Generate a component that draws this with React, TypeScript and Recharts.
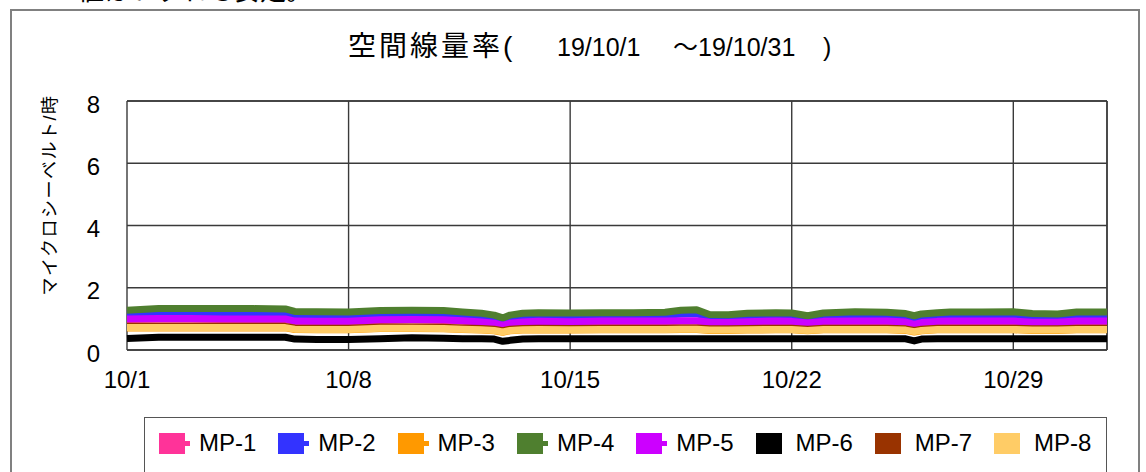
import { CartesianGrid, Line, LineChart, ReferenceLine, XAxis, YAxis } from "recharts";

// days since 10/1 00:00
const dayOffsets = [
  0, 1, 2, 3, 4, 5, 5.3, 6, 7, 8, 9, 10, 10.6, 11.2, 11.6, 11.87, 12.1, 12.5, 13, 14, 15, 16, 17, 17.5,
  18, 18.4, 19, 19.6, 20.5, 21, 21.5, 22, 23, 24, 24.6, 24.87, 25.1, 25.6, 26, 27, 28, 28.6, 29.4, 30, 30.96,
];

const mp1 = [
  0.98, 0.99, 0.99, 0.98, 0.98, 0.98, 0.91, 0.9, 0.9, 0.95, 0.96, 0.95, 0.92, 0.88, 0.84, 0.77, 0.84, 0.88, 0.9, 0.89, 0.91, 0.91, 0.91, 0.92,
  0.92, 0.87, 0.86, 0.89, 0.91, 0.9, 0.85, 0.9, 0.91, 0.91, 0.88, 0.8, 0.86, 0.9, 0.91, 0.91, 0.91, 0.87, 0.87, 0.91, 0.91,
];
const mp2 = [
  1.18, 1.19, 1.19, 1.19, 1.19, 1.18, 1.12, 1.11, 1.11, 1.15, 1.16, 1.15, 1.11, 1.07, 1.02, 0.94, 1.02, 1.07, 1.1, 1.09, 1.1, 1.1, 1.11, 1.16,
  1.17, 1.04, 1.03, 1.08, 1.1, 1.09, 1.02, 1.09, 1.12, 1.11, 1.07, 0.99, 1.05, 1.09, 1.11, 1.11, 1.12, 1.07, 1.06, 1.11, 1.11,
];
const mp3 = [
  0.71, 0.71, 0.71, 0.71, 0.71, 0.71, 0.66, 0.65, 0.65, 0.69, 0.69, 0.68, 0.66, 0.64, 0.62, 0.57, 0.62, 0.64, 0.65, 0.64, 0.65, 0.65, 0.65, 0.66,
  0.66, 0.63, 0.63, 0.64, 0.65, 0.65, 0.62, 0.65, 0.65, 0.65, 0.63, 0.58, 0.62, 0.65, 0.65, 0.65, 0.65, 0.63, 0.63, 0.65, 0.65,
];
const mp4 = [
  1.28, 1.33, 1.33, 1.33, 1.33, 1.32, 1.24, 1.23, 1.22, 1.27, 1.28, 1.27, 1.22, 1.18, 1.12, 1.03, 1.12, 1.18, 1.2, 1.19, 1.2, 1.2, 1.21, 1.28,
  1.29, 1.14, 1.13, 1.18, 1.2, 1.19, 1.1, 1.19, 1.23, 1.21, 1.17, 1.1, 1.16, 1.2, 1.22, 1.22, 1.23, 1.17, 1.16, 1.22, 1.22,
];
const mp5 = [
  1.0, 1.01, 1.01, 1.0, 1.0, 1.0, 0.93, 0.92, 0.92, 0.97, 0.98, 0.97, 0.94, 0.9, 0.86, 0.79, 0.86, 0.9, 0.92, 0.91, 0.93, 0.93, 0.93, 0.94,
  0.94, 0.89, 0.88, 0.91, 0.93, 0.92, 0.87, 0.92, 0.93, 0.93, 0.9, 0.82, 0.88, 0.92, 0.93, 0.93, 0.93, 0.89, 0.89, 0.93, 0.93,
];
const mp6 = [
  0.37, 0.41, 0.41, 0.41, 0.41, 0.41, 0.35, 0.34, 0.34, 0.36, 0.39, 0.38, 0.36, 0.36, 0.35, 0.28, 0.31, 0.35, 0.36, 0.36, 0.36, 0.36, 0.36, 0.36,
  0.36, 0.36, 0.36, 0.36, 0.36, 0.36, 0.36, 0.36, 0.36, 0.36, 0.36, 0.29, 0.35, 0.36, 0.36, 0.36, 0.36, 0.36, 0.36, 0.36, 0.36,
];
const mp7 = [
  0.76, 0.76, 0.76, 0.76, 0.76, 0.76, 0.71, 0.7, 0.7, 0.74, 0.74, 0.73, 0.71, 0.69, 0.67, 0.62, 0.67, 0.69, 0.7, 0.69, 0.7, 0.7, 0.7, 0.71,
  0.71, 0.68, 0.68, 0.69, 0.7, 0.7, 0.67, 0.7, 0.7, 0.7, 0.68, 0.63, 0.67, 0.7, 0.7, 0.7, 0.7, 0.68, 0.68, 0.7, 0.7,
];
const mp8 = [
  0.72, 0.72, 0.72, 0.72, 0.72, 0.72, 0.67, 0.66, 0.66, 0.7, 0.7, 0.69, 0.67, 0.65, 0.63, 0.58, 0.63, 0.65, 0.66, 0.65, 0.66, 0.66, 0.66, 0.67,
  0.67, 0.64, 0.64, 0.65, 0.66, 0.66, 0.63, 0.66, 0.66, 0.66, 0.64, 0.59, 0.63, 0.66, 0.66, 0.66, 0.66, 0.64, 0.64, 0.66, 0.66,
];

const seriesNames = ["MP-1", "MP-2", "MP-3", "MP-4", "MP-5", "MP-6", "MP-7", "MP-8"];
const seriesValues = [mp1, mp2, mp3, mp4, mp5, mp6, mp7, mp8];
const seriesColors = ["#ff3399", "#3333ff", "#ff9900", "#4f7f2f", "#cc00ff", "#000000", "#993300", "#ffcc66"];

const xTicks = [0, 7, 14, 21, 28];
const xTickLabels = ["10/1", "10/8", "10/15", "10/22", "10/29"];
const yTicks = [0, 2, 4, 6, 8];

const rows = dayOffsets.map((t, i) => {
  const row: Record<string, number> = { t };
  seriesNames.forEach((name, s) => {
    row[name] = seriesValues[s][i];
  });
  return row;
});

const FONT = "'Liberation Sans', 'Noto Sans CJK JP', sans-serif";
const GRID = "#3a3a3a";

export default function App() {
  const lastDay = dayOffsets[dayOffsets.length - 1];
  return (
    <div
      style={{
        position: "relative",
        width: 1146,
        height: 472,
        overflow: "hidden",
        background: "#fff",
        fontFamily: FONT,
        color: "#000",
      }}
    >
      <style>{"body{margin:0}"}</style>

      {/* cut-off line of the surrounding document */}
      <div
        style={{ position: "absolute", left: 78, top: -22, fontSize: 26, lineHeight: 1, whiteSpace: "nowrap" }}
      >
        値はいずれも安定。
      </div>

      <div
        style={{
          position: "absolute",
          left: 10,
          top: 9,
          width: 1130,
          height: 500,
          border: "2px solid #808080",
          boxSizing: "border-box",
        }}
      />

      {/* title */}
      <div style={{ position: "absolute", left: 348, top: 33, fontSize: 28, letterSpacing: 3, lineHeight: 1, whiteSpace: "nowrap" }}>
        空間線量率(
      </div>
      <div style={{ position: "absolute", left: 557, top: 35, fontSize: 25, lineHeight: 1, whiteSpace: "nowrap" }}>
        19/10/1
      </div>
      <div style={{ position: "absolute", left: 673, top: 35, fontSize: 25, lineHeight: 1, whiteSpace: "nowrap" }}>
        ～19/10/31
      </div>
      <div style={{ position: "absolute", left: 823, top: 35, fontSize: 25, lineHeight: 1, whiteSpace: "nowrap" }}>
        )
      </div>

      {/* y axis title */}
      <div
        style={{
          position: "absolute",
          left: 50,
          top: 195,
          fontSize: 18,
          letterSpacing: 1.5,
          lineHeight: 1,
          whiteSpace: "nowrap",
          transform: "translate(-50%, -50%) rotate(-90deg)",
        }}
      >
        マイクロシーベルト/時
      </div>

      <div style={{ position: "absolute", left: 0, top: 0 }}>
        <LineChart width={1146} height={472} data={rows} margin={{ top: 101, right: 39, bottom: 92, left: 0 }}>
          <CartesianGrid stroke={GRID} strokeWidth={1.4} fill="#fff" />
          <XAxis
            type="number"
            dataKey="t"
            domain={[0, lastDay]}
            ticks={xTicks}
            interval={0}
            tickFormatter={(v) => xTickLabels[xTicks.indexOf(v)]}
            axisLine={false}
            tickLine={false}
            tickSize={0}
            tickMargin={21}
            height={30}
            tick={{ fontSize: 24, fill: "#000" }}
          />
          <YAxis
            type="number"
            domain={[0, 8]}
            ticks={yTicks}
            interval={0}
            axisLine={false}
            tickLine={false}
            tickSize={0}
            tickMargin={27}
            width={127}
            tick={{ fontSize: 24, fill: "#000", dy: 3 }}
          />
          <ReferenceLine x={lastDay} stroke={GRID} strokeWidth={1.4} />
          <ReferenceLine y={8} stroke={GRID} strokeWidth={1.4} />
          <ReferenceLine y={0} stroke={GRID} strokeWidth={1.4} />
          {seriesNames.map((name, s) => (
            <Line
              key={name}
              type="linear"
              dataKey={name}
              stroke={seriesColors[s]}
              strokeWidth={7}
              strokeLinejoin="round"
              dot={false}
              isAnimationActive={false}
            />
          ))}
        </LineChart>
      </div>

      {/* legend */}
      <div
        style={{
          position: "absolute",
          left: 144,
          top: 417,
          width: 963,
          height: 60,
          border: "1.5px solid #555",
          boxSizing: "border-box",
        }}
      >
        {seriesNames.map((name, s) => (
          <div
            key={name}
            style={{
              position: "absolute",
              left: 14 + s * 119.3,
              top: 14,
              height: 22,
              display: "flex",
              alignItems: "center",
              whiteSpace: "nowrap",
            }}
          >
            <div style={{ position: "relative", width: 26, height: 21, background: seriesColors[s] }}>
              {s < 5 && (
                <div
                  style={{ position: "absolute", right: -5, top: 8, width: 5, height: 5, background: seriesColors[s] }}
                />
              )}
            </div>
            <span style={{ marginLeft: 14, fontSize: 24, lineHeight: 1 }}>{name}</span>
          </div>
        ))}
      </div>
    </div>
  );
}
